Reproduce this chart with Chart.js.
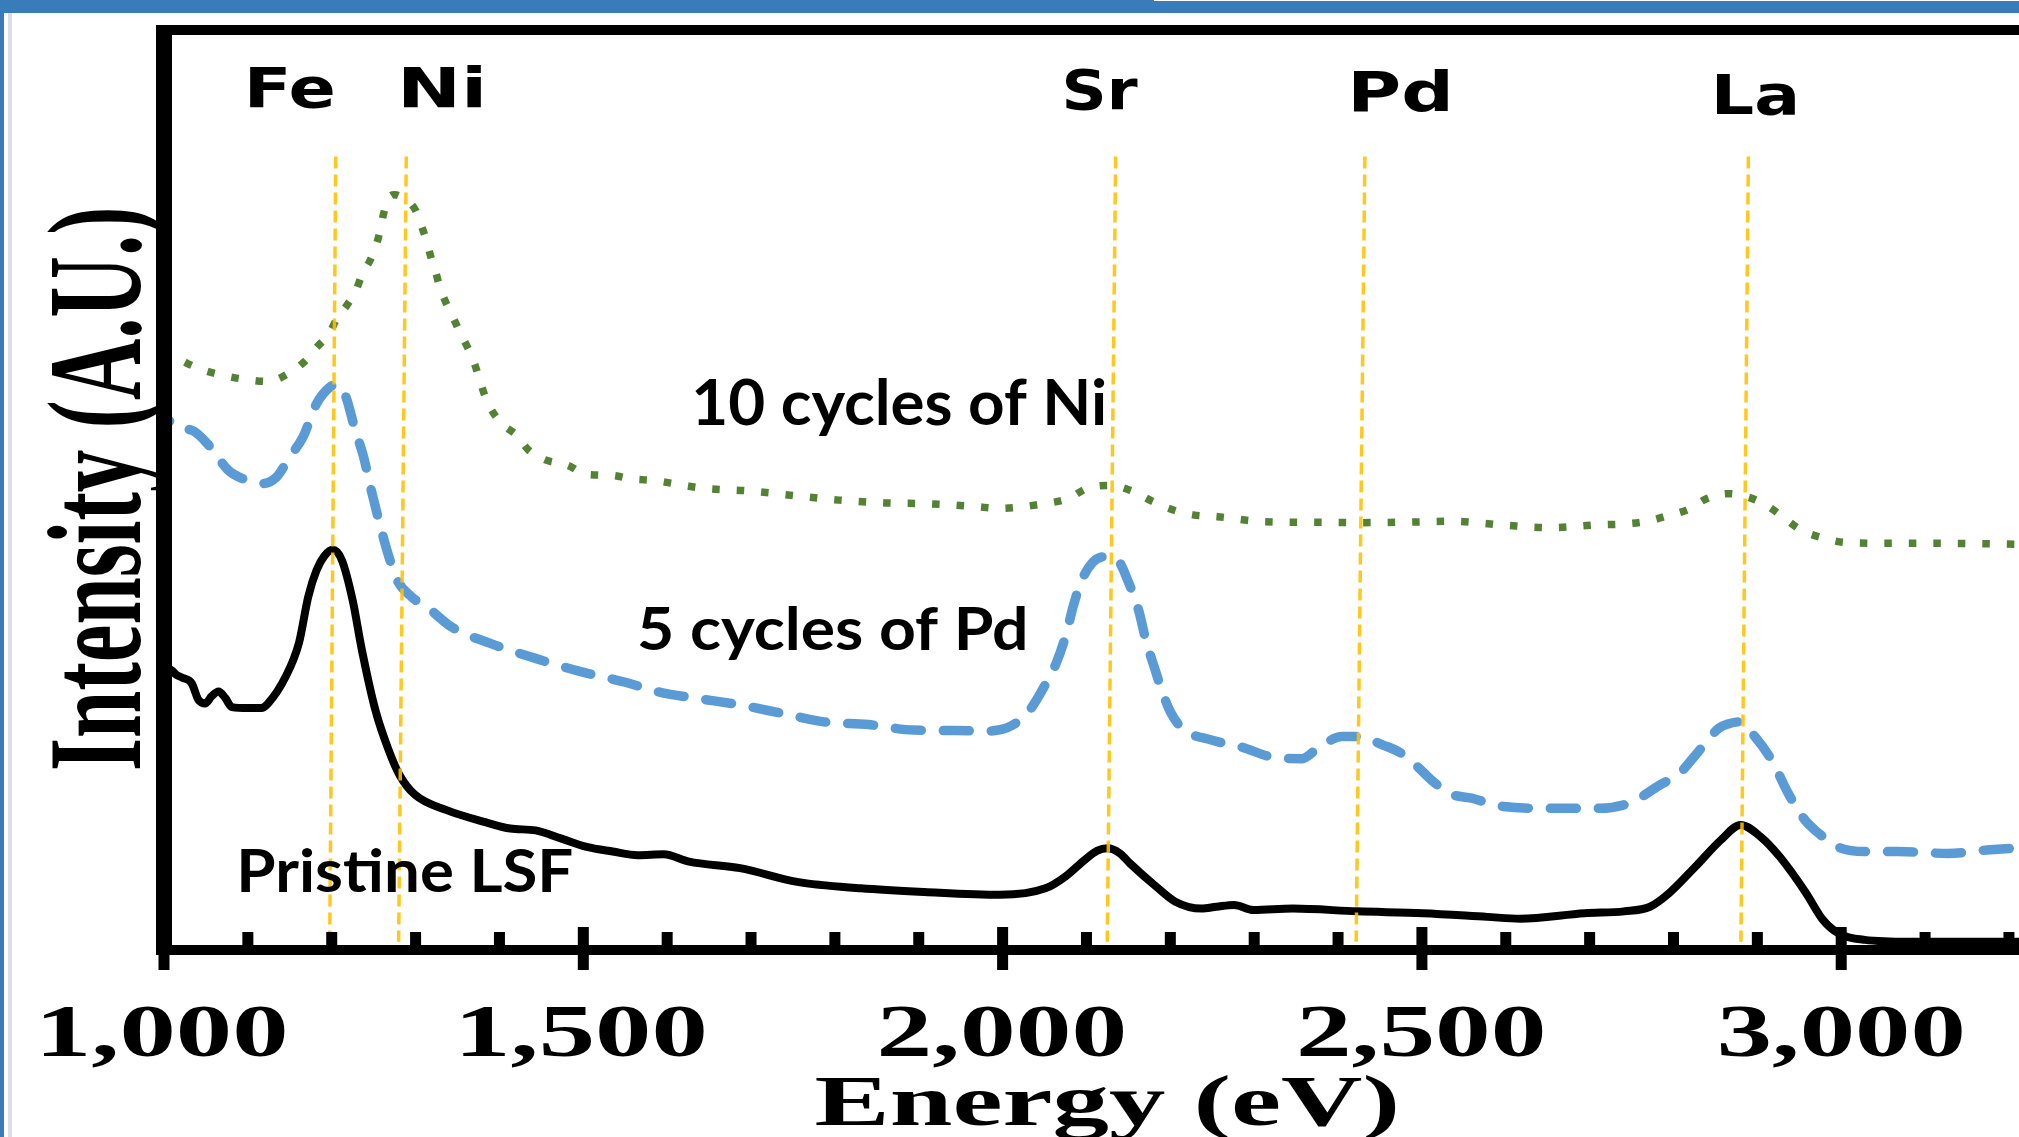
<!DOCTYPE html>
<html>
<head>
<meta charset="utf-8">
<style>
  html, body { margin: 0; padding: 0; background: #ffffff; }
  #wrap { width: 2019px; height: 1137px; }
</style>
<script src="https://cdn.jsdelivr.net/npm/chart.js@4.4.1/dist/chart.umd.min.js"></script>
</head>
<body>
<div id="wrap"><canvas id="c" width="2019" height="1137"></canvas></div>
<script>
// ---------------- DATA ----------------
const pristineEnergy = [1000,1009,1015,1022,1033,1041,1049,1057,1065,1073,1081,1100,1116,1124,1145,1161,1172,1182,1191,1201,1212,1225,1236,1252,1268,1281,1299,1337,1383,1413,1443,1474,1504,1535,1565,1596,1626,1687,1755,1831,1907,1997,2051,2075,2098,2113,2125,2140,2152,2183,2206,2237,2255,2276,2299,2346,2423,2501,2578,2617,2694,2741,2772,2795,2826,2857,2880,2904,2927,2958,2978,2997,3028,3082,3212];
const pristineIntensity = [30.8,30.4,29.9,29.6,29.0,27.2,26.8,27.6,28.1,27.4,26.4,26.3,26.3,26.8,29.7,33.4,38.4,41.3,42.8,43.5,42.4,38.0,32.6,26.1,21.7,19.0,16.9,15.2,13.9,13.2,13.0,12.1,11.2,10.7,10.3,10.4,9.6,8.9,7.4,6.7,6.3,6.0,6.7,8.0,9.8,10.8,11.05,10.5,9.4,6.9,5.25,4.5,4.7,4.9,4.35,4.5,4.2,4.0,3.6,3.4,4.0,4.2,4.7,6.2,9.05,12.0,13.6,12.3,10.1,6.2,3.3,1.8,1.1,0.9,0.9];

const pdEnergy = [1000,1004,1033,1055,1076,1092,1118,1134,1150,1166,1182,1198,1207,1217,1228,1238,1246,1257,1268,1278,1295,1316,1343,1390,1443,1497,1550,1592,1636,1689,1738,1787,1840,1894,1943,1984,2000,2011,2030,2050,2064,2076,2084,2093,2107,2127,2139,2150,2162,2171,2181,2191,2200,2214,2250,2283,2326,2357,2378,2405,2426,2453,2475,2495,2511,2533,2559,2597,2652,2712,2751,2783,2807,2830,2854,2866,2878,2897,2917,2937,2957,2973,2996,3028,3067,3127,3178,3212];
const pdIntensity = [60.2,57.8,56.5,54.7,52.2,51.3,50.7,51.4,53.6,55.8,59.4,61.2,61.5,60.1,56.5,53.6,50.4,46.4,42.8,40.2,38.4,37.1,35.1,33.3,31.7,30.25,29.1,28.0,27.35,26.6,25.7,24.8,24.5,23.9,23.85,23.8,24.0,24.4,25.8,28.7,31.2,34.4,37.3,39.9,42.1,42.8,42.2,40.0,37.0,33.6,30.7,27.9,25.9,24.1,22.8,22.1,20.9,20.8,22.1,23.2,23.2,22.3,21.4,19.9,18.5,17.0,16.5,15.6,15.4,15.4,16.1,17.9,19.2,21.6,24.1,24.6,24.8,23.2,20.65,17.0,14.1,12.7,11.2,10.7,10.7,10.5,10.9,11.1];

const niEnergy = [1000,1027,1048,1073,1099,1124,1149,1168,1182,1197,1206,1219,1229,1236,1246,1253,1258,1262,1268,1275,1282,1300,1307,1313,1318,1324,1329,1336,1345,1353,1362,1370,1376,1382,1390,1403,1421,1434,1454,1481,1504,1532,1559,1587,1614,1642,1697,1751,1805,1860,1912,1967,1996,2052,2079,2101,2129,2154,2178,2201,2227,2256,2312,2367,2423,2481,2538,2596,2653,2708,2739,2766,2793,2818,2838,2865,2890,2913,2933,2952,2976,3005,3063,3121,3212];
const niIntensity = [65.3,63.8,63.0,62.4,62.0,61.8,62.7,64.0,65.5,67.0,68.6,70.2,71.7,73.4,75.0,76.6,78.3,80.1,81.7,82.1,81.9,80.4,78.7,77.1,75.4,73.7,72.0,70.4,68.7,67.1,65.5,63.8,62.1,60.4,58.8,57.2,55.9,54.4,53.3,52.7,51.7,51.6,51.2,51.0,50.6,50.2,49.9,49.4,48.9,48.6,48.5,48.2,48.0,48.55,49.1,50.2,50.5,49.9,48.8,47.9,47.3,47.1,46.55,46.5,46.45,46.5,46.6,46.2,45.9,46.2,46.3,46.55,47.2,47.9,49.0,49.6,49.2,48.2,46.9,45.65,44.85,44.3,44.2,44.2,44.1];

// element marker lines (energy at top and bottom end of each dashed marker)
const elementNames = ['Fe','Ni','Sr','Pd','La'];
const elementTopEnergy = [1204.8, 1288.9, 2134.8, 2432.0, 2889.3];
const elementBottomEnergy = [1197.6, 1279.8, 2124.8, 2421.6, 2880.4];
const markerTopIntensity = 86.25;
const markerBottomIntensity = 0.9;

// axis ticks
const xMajorTicks = [1000, 1500, 2000, 2500, 3000];
const xTickLabels = ['1,000', '1,500', '2,000', '2,500', '3,000'];
const xMinorTicks = [1100,1200,1300,1400,1600,1700,1800,1900,2100,2200,2300,2400,2600,2700,2800,2900,3100,3200];

const seriesNames = ['Pristine LSF', '5 cycles of Pd', '10 cycles of Ni'];
const xTitle = 'Energy (eV)';
const yTitle = 'Intensity (A.U.)';

// ---------------- LAYOUT / STYLE ----------------
const serifFont = '"Liberation Serif", "Times New Roman", serif';
const labelFont = '"DejaVu Sans", Verdana, sans-serif';
const noteFont = 'Lato, Calibri, "Open Sans", sans-serif';

const elementLabelBoxes = [
  {left: 250,  baseline: 107,   width: 83,   capH: 40,   ref: 'F'},
  {left: 404,  baseline: 107,   width: 78,   capH: 40,   ref: 'N'},
  {left: 1065, baseline: 108.5, width: 72.5, capH: 40.5, ref: 'S'},
  {left: 1354, baseline: 111,   width: 94,   capH: 39.5, ref: 'P'},
  {left: 1717, baseline: 114,   width: 78,   capH: 40,   ref: 'L'}
];
const seriesLabelBoxes = [
  {left: 241, baseline: 891.5, width: 331, capH: 43.3, ref: 'P'},
  {left: 639, baseline: 650,   width: 386, capH: 43.3, ref: 'P'},
  {left: 695, baseline: 425,   width: 410, capH: 46.7, ref: 'N'}
];

function toPoints(xs, ys) { return xs.map((x, i) => ({x: x, y: ys[i]})); }

function drawFit(ctx, o) {
  ctx.save();
  ctx.font = o.weight + ' ' + o.size + 'px ' + o.family;
  ctx.textAlign = 'left';
  ctx.textBaseline = 'alphabetic';
  const m = ctx.measureText(o.text);
  const inkW = m.actualBoundingBoxLeft + m.actualBoundingBoxRight;
  const capH = ctx.measureText(o.ref).actualBoundingBoxAscent;
  const sx = o.width / inkW, sy = o.capH / capH;
  ctx.translate(o.x, o.y);
  if (o.rotate) ctx.rotate(o.rotate);
  ctx.scale(sx, sy);
  ctx.fillStyle = '#000000';
  ctx.fillText(o.text, m.actualBoundingBoxLeft, 0);
  ctx.restore();
}

const decorPlugin = {
  id: 'decor',
  beforeDraw(chart) {
    const ctx = chart.ctx;
    ctx.save();
    ctx.fillStyle = '#ffffff';
    ctx.fillRect(0, 0, chart.width, chart.height);
    ctx.fillStyle = '#3A7CBA';
    ctx.fillRect(0, 0, chart.width, 13);
    ctx.fillRect(0, 0, 4, chart.height);
    ctx.fillStyle = '#ffffff';
    ctx.fillRect(1154, 0, chart.width - 1154, 1);
    ctx.fillStyle = '#D6DFEA';
    ctx.fillRect(8, 13, 4, chart.height - 13);
    ctx.restore();
  },
  afterDatasetsDraw(chart) {
    const ctx = chart.ctx, a = chart.chartArea, xs = chart.scales.x;
    ctx.save();
    ctx.fillStyle = '#000000';
    // frame: top, left, bottom axis line
    ctx.fillRect(a.left - 8, a.top - 5, chart.width - a.left + 8, 10);
    ctx.fillRect(a.left - 8, a.top - 5, 16, a.bottom - a.top + 10);
    ctx.fillRect(a.left - 8, a.bottom - 5, chart.width - a.left + 8, 10);
    // ticks
    xMinorTicks.forEach(v => {
      const px = xs.getPixelForValue(v);
      ctx.fillRect(px - 5.5, a.bottom - 18, 11, 18);
    });
    xMajorTicks.forEach(v => {
      const px = xs.getPixelForValue(v);
      ctx.fillRect(px - 5.5, a.bottom - 23, 11, 43);
    });
    ctx.restore();
  },
  afterDraw(chart) {
    const ctx = chart.ctx, xs = chart.scales.x;
    // tick labels
    xMajorTicks.forEach((v, i) => {
      const px = xs.getPixelForValue(v);
      drawFit(ctx, {text: xTickLabels[i], family: serifFont, weight: 'bold', size: 74,
        x: px - 121.5, y: 1056, width: 243, capH: 50, ref: '0'});
    });
    // axis titles
    drawFit(ctx, {text: xTitle, family: serifFont, weight: 'bold', size: 74,
      x: 816, y: 1125, width: 580, capH: 48, ref: 'E'});
    drawFit(ctx, {text: yTitle, family: serifFont, weight: 'bold', size: 86,
      x: 140, y: 769, width: 559, capH: 89, ref: 'I', rotate: -Math.PI / 2});
    // element labels
    elementNames.forEach((n, i) => {
      const b = elementLabelBoxes[i];
      drawFit(ctx, {text: n, family: labelFont, weight: 'bold', size: 55,
        x: b.left, y: b.baseline, width: b.width, capH: b.capH, ref: b.ref});
    });
    // series labels
    seriesNames.forEach((n, i) => {
      const b = seriesLabelBoxes[i];
      drawFit(ctx, {text: n, family: noteFont, weight: 'bold', size: 68,
        x: b.left, y: b.baseline, width: b.width, capH: b.capH, ref: b.ref});
    });
  }
};

const markerDatasets = elementNames.map((n, i) => ({
  label: n,
  data: [{x: elementTopEnergy[i], y: markerTopIntensity}, {x: elementBottomEnergy[i], y: markerBottomIntensity}],
  borderColor: 'rgba(255,192,0,0.88)',
  borderWidth: 3.5,
  borderDash: [12, 6],
  pointRadius: 0,
  fill: false,
  order: 0
}));

new Chart(document.getElementById('c'), {
  type: 'line',
  data: {
    datasets: [
      {
        label: seriesNames[0],
        data: toPoints(pristineEnergy, pristineIntensity),
        borderColor: '#000000',
        borderWidth: 8,
        pointRadius: 0,
        cubicInterpolationMode: 'monotone',
        borderJoinStyle: 'round',
        fill: false,
        order: 1
      },
      {
        label: seriesNames[1],
        data: toPoints(pdEnergy, pdIntensity),
        borderColor: '#5B9BD5',
        borderWidth: 9.5,
        borderDash: [26, 22],
        borderCapStyle: 'round',
        pointRadius: 0,
        cubicInterpolationMode: 'monotone',
        fill: false,
        order: 2
      },
      {
        label: seriesNames[2],
        data: toPoints(niEnergy, niIntensity),
        borderColor: '#548235',
        borderWidth: 7.5,
        borderDash: [7.5, 17],
        borderCapStyle: 'butt',
        pointRadius: 0,
        cubicInterpolationMode: 'monotone',
        fill: false,
        order: 3
      }
    ].concat(markerDatasets)
  },
  options: {
    responsive: false,
    devicePixelRatio: 1,
    animation: false,
    events: [],
    layout: { padding: { left: 164, top: 30, right: 0, bottom: 187 } },
    plugins: { legend: { display: false }, title: { display: false }, tooltip: { enabled: false } },
    scales: {
      x: { type: 'linear', min: 1000, max: 3212, display: false },
      y: { type: 'linear', min: 0, max: 100, display: false }
    }
  },
  plugins: [decorPlugin]
});
</script>
</body>
</html>
